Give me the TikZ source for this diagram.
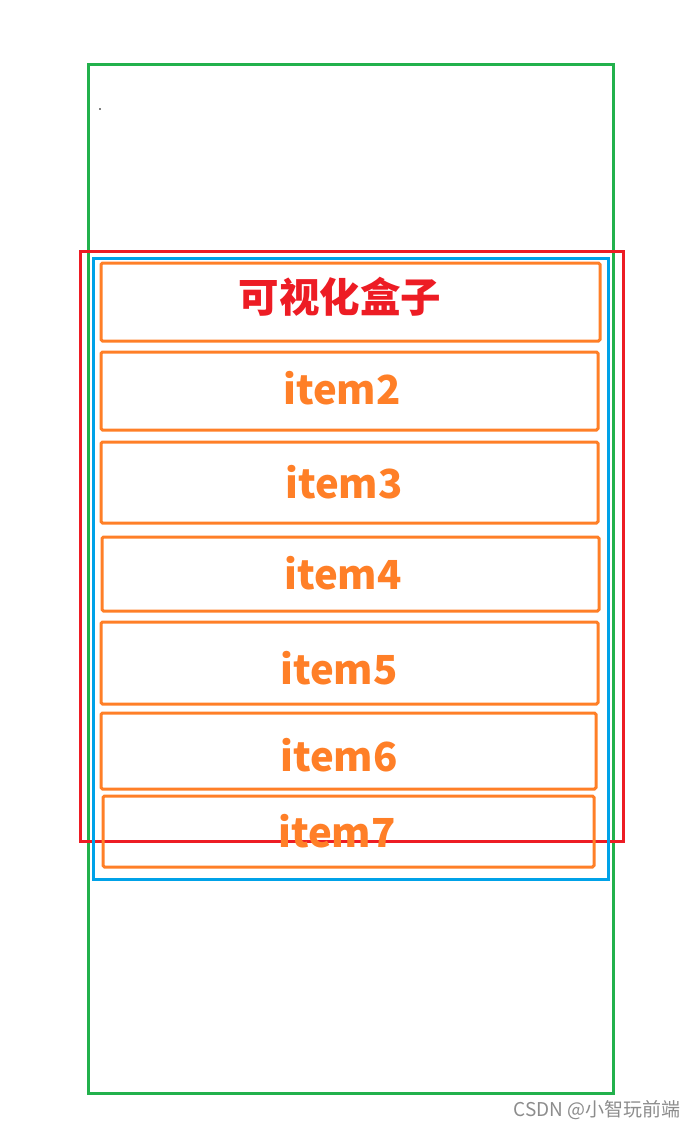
\documentclass[tikz,border=0pt]{standalone}
\usepackage{fontspec}
\newfontfamily\cjk{Noto Sans CJK SC}
\definecolor{pgreen}{RGB}{34,177,76}
\definecolor{pred}{RGB}{237,28,36}
\definecolor{pblue}{RGB}{0,162,232}
\definecolor{porange}{RGB}{255,127,39}
\tikzset{
  frame/.style={line width=3pt},
  itembox/.style={draw=porange,line width=3pt,rounded corners=1.5pt},
  itemtext/.style={text=porange,font=\cjk\bfseries\fontsize{40}{42}\selectfont,inner sep=0pt}
}
\begin{document}
\begin{tikzpicture}[x=1pt,y=-1pt]
\useasboundingbox(0,0)rectangle(697,1129);
\draw[frame,pgreen](88,65)rectangle(613,1093);
\draw[frame,pred](80,251)rectangle(623,841);
\draw[frame,pblue](93,258)rectangle(608,879);
\fill(100,109)circle(0.8);
\draw[itembox](101,263)rectangle(600,341);
\draw[itembox](101,352)rectangle(598,430);
\draw[itembox](101,442)rectangle(598,523);
\draw[itembox](102,537)rectangle(599,611);
\draw[itembox](101,622)rectangle(598,704);
\draw[itembox](101,713)rectangle(596,789);
\draw[itembox](103,796)rectangle(594,867);
\node[itemtext,text=pred,font=\cjk\bfseries\fontsize{40.5}{42}\selectfont](title)at(340,297){可视化盒子};
\node[itemtext](item2)at(342,388){item2};
\node[itemtext](item3)at(344,482){item3};
\node[itemtext](item4)at(343,573){item4};
\node[itemtext](item5)at(339,668){item5};
\node[itemtext](item6)at(339,755){item6};
\node[itemtext](item7)at(337,831){item7};
\node[text=black!45,font=\cjk\fontsize{19}{20}\selectfont,anchor=east](mark)at(684,1110){CSDN @小智玩前端};
\end{tikzpicture}
\end{document}
